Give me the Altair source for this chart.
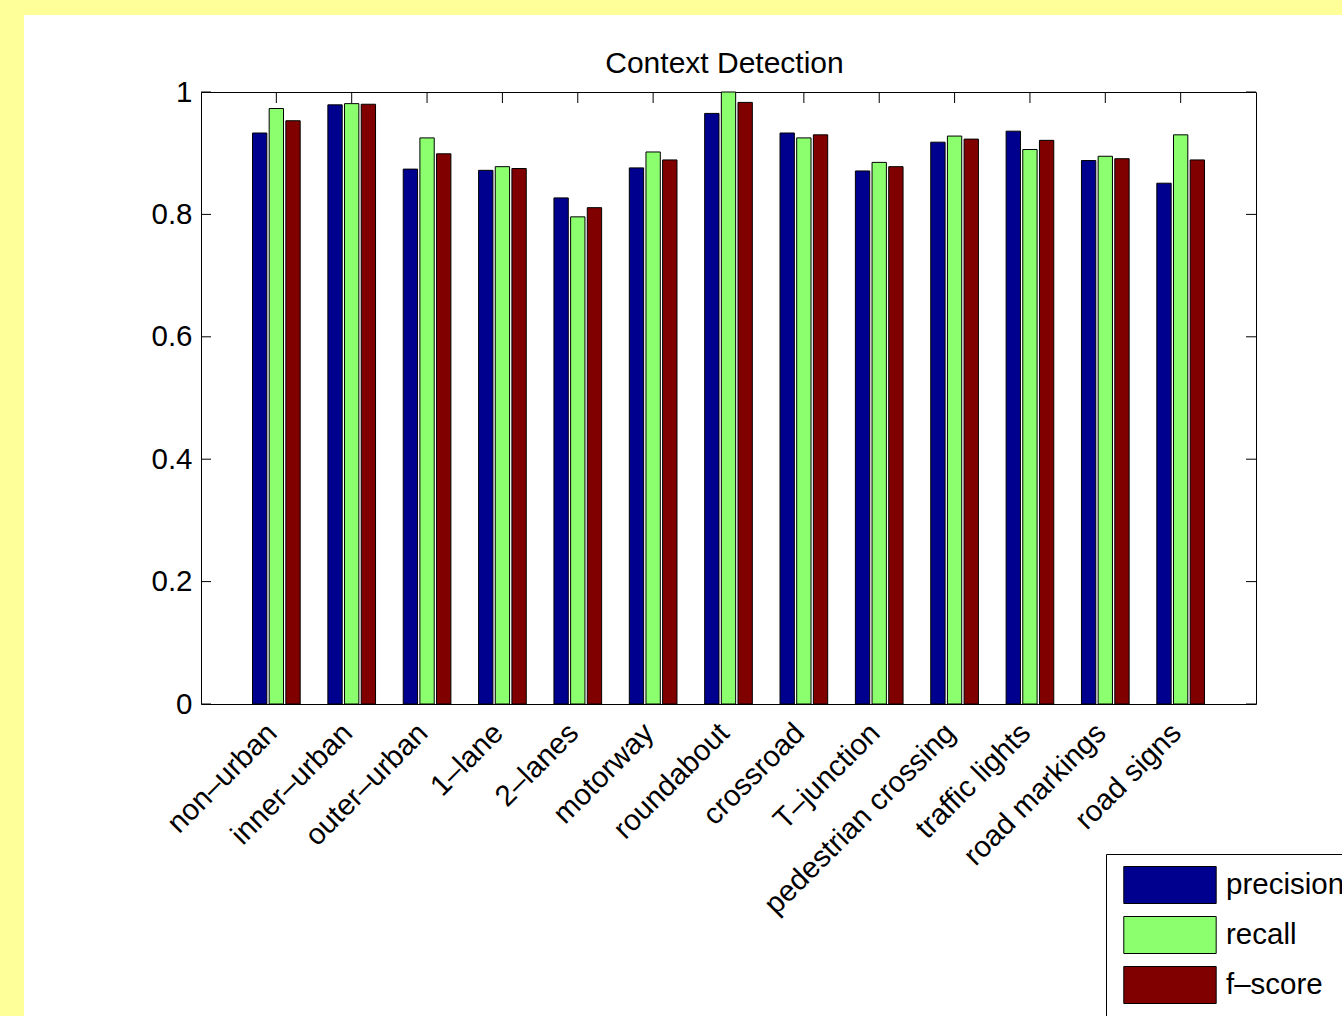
import altair as alt
import pandas as pd

categories = ["non–urban", "inner–urban", "outer–urban", "1–lane", "2–lanes",
              "motorway", "roundabout", "crossroad", "T–junction",
              "pedestrian crossing", "traffic lights", "road markings", "road signs"]
precision = [0.933, 0.979, 0.874, 0.872, 0.827, 0.876, 0.965, 0.933, 0.871, 0.918, 0.936, 0.888, 0.851]
recall = [0.973, 0.981, 0.925, 0.878, 0.796, 0.902, 1.000, 0.925, 0.885, 0.928, 0.906, 0.895, 0.930]
fscore = [0.953, 0.980, 0.899, 0.875, 0.811, 0.889, 0.983, 0.930, 0.878, 0.923, 0.921, 0.891, 0.889]
series = ["precision", "recall", "f–score"]
colors = ["#00008F", "#8CFF6E", "#800000"]
y_ticks = [0, 0.2, 0.4, 0.6, 0.8, 1]

W, H = 1055, 612
FONT = "Liberation Sans"

rows = []
for name, vals in zip(series, [precision, recall, fscore]):
    for c, v in zip(categories, vals):
        rows.append({"category": c, "series": name, "value": v})
df = pd.DataFrame(rows)
cat_df = pd.DataFrame({"category": categories})
ytick_df = pd.DataFrame({"tick": y_ticks})
one = pd.DataFrame({"k": [0]})

xscale = alt.Scale(domain=categories, paddingInner=0.3365, paddingOuter=0.668)
yscale = alt.Scale(domain=[0, 1], nice=False)

strip_left = alt.Chart(one).mark_rect(color="#FFFF99").encode(
    x=alt.value(-201), x2=alt.value(-177), y=alt.value(-92), y2=alt.value(1016 - 92))
strip_top = alt.Chart(one).mark_rect(color="#FFFF99").encode(
    x=alt.value(-201), x2=alt.value(1342 - 201), y=alt.value(-92), y2=alt.value(-77))

xt_top = alt.Chart(cat_df).mark_rule(color="black", strokeWidth=1).encode(
    x=alt.X("category:N", sort=categories, scale=xscale),
    y=alt.value(0), y2=alt.value(11))
yt_left = alt.Chart(ytick_df).mark_rule(color="black", strokeWidth=1).encode(
    y=alt.Y("tick:Q", scale=yscale), x=alt.value(0), x2=alt.value(10))
yt_right = alt.Chart(ytick_df).mark_rule(color="black", strokeWidth=1).encode(
    y=alt.Y("tick:Q", scale=yscale), x=alt.value(W - 10), x2=alt.value(W))

bars = alt.Chart(df).mark_bar(stroke="black", strokeWidth=1, opacity=1).encode(
    x=alt.X("category:N", sort=categories, scale=xscale, title=None,
            axis=alt.Axis(labelAngle=315, labelAlign="right", labelBaseline="middle",
                          labelPadding=24, labelOffset=-4, tickSize=0, domain=False,
                          labelFontSize=29.5, labelFont=FONT, labelColor="black",
                          labelOverlap=False, labelLimit=0, labelBound=False)),
    xOffset=alt.XOffset("series:N", sort=series,
                        scale=alt.Scale(domain=series, paddingInner=0.14, paddingOuter=0.07)),
    y=alt.Y("value:Q", scale=yscale, title=None,
            axis=alt.Axis(values=y_ticks, format="~g", tickSize=0, domain=False, grid=False,
                          labelFontSize=29.5, labelFont=FONT, labelColor="black",
                          labelPadding=9)),
    color=alt.Color("series:N", sort=series, scale=alt.Scale(domain=series, range=colors),
                    legend=alt.Legend(orient="none", legendX=905, legendY=762, title=None,
                                      padding=12, strokeColor="black", fillColor="white",
                                      symbolType="M-0.714,-1H4.28V1H-0.714Z",
                                      symbolSize=1369, symbolStrokeColor="black",
                                      symbolStrokeWidth=1, symbolOpacity=1,
                                      labelFontSize=29.5, labelFont=FONT, labelColor="black",
                                      labelOffset=70, rowPadding=8, labelLimit=0)),
)

chart = alt.layer(strip_left, strip_top, xt_top, yt_left, yt_right, bars).properties(
    width=W, height=H,
    title=alt.TitleParams("Context Detection", fontSize=30, fontWeight="normal", font=FONT,
                          color="black", offset=19, dy=122, dx=-4, frame="group",
                          baseline="alphabetic", anchor="middle"),
    autosize=alt.AutoSizeParams(type="none"),
    padding={"left": 201, "top": 92, "right": 1342 - 201 - W, "bottom": 1016 - 92 - H},
    background="white",
).configure_view(stroke="black", strokeWidth=1)

chart.save("out.html", embed_options={"renderer": "svg", "actions": False})
